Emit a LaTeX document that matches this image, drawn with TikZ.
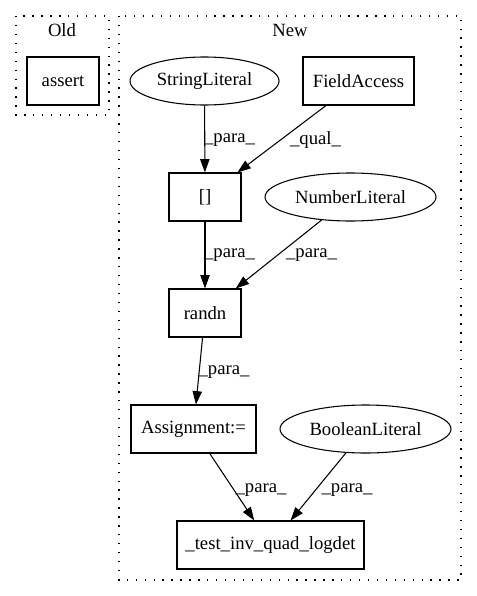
\documentclass[tikz,border=0pt]{standalone}
\usepackage{fontspec}
\setmainfont{Liberation Serif}
\usetikzlibrary{shapes.geometric,arrows.meta}
\begin{document}
\begin{tikzpicture}[x=0.75pt,y=-0.75pt,
  every node/.style={font=\fontsize{14}{16}\selectfont},
  boxnode/.style={draw,line width=0.8pt,rectangle,inner sep=0pt,minimum height=36pt},
  ellnode/.style={draw,line width=0.8pt,ellipse,inner sep=0pt,minimum height=36pt},
  arr/.style={line width=0.8pt,-{Triangle[length=10pt,width=7pt]}},
  lbl/.style={inner sep=0pt},
  cluster/.style={line width=1pt,dash pattern=on 1pt off 5.7pt}]
\useasboundingbox (0,0) rectangle (477,596);
% clusters
\draw[cluster] (16,16) rectangle (109,115);
\node[lbl] (oldlbl) at (62,30) {Old};
\draw[cluster] (119,16) rectangle (461,580);
\node[lbl] (newlbl) at (290,30) {New};
% nodes
\node[boxnode,minimum width=54pt] (as) at (63,81) {assert};
\node[ellnode,minimum width=111.75pt] (sl) at (204.5,81) {StringLiteral};
\node[boxnode,minimum width=83.25pt] (fa) at (358.5,81) {FieldAccess};
\node[boxnode,minimum width=54pt] (br) at (205,197) {[]};
\node[ellnode,minimum width=128.25pt] (nl) at (350.5,197) {NumberLiteral};
\node[boxnode,minimum width=54pt] (rn) at (205,313) {randn};
\node[boxnode,minimum width=93.75pt] (asg) at (193.5,429) {Assignment:=};
\node[ellnode,minimum width=128.25pt] (bl) at (365.5,429) {BooleanLiteral};
\node[boxnode,minimum width=140.25pt] (tq) at (270.5,545) {\_test\_inv\_quad\_logdet};
% edges
\draw[arr] (sl) -- (br);
\draw[arr] (fa) -- (br);
\draw[arr] (br) -- (rn);
\draw[arr] (nl) -- (rn);
\draw[arr] (rn) -- (asg);
\draw[arr] (asg) -- (tq);
\draw[arr] (bl) -- (tq);
% edge labels
\node[lbl] (l1) at (229.5,140) {\_para\_};
\node[lbl] (l2) at (315.5,140) {\_qual\_};
\node[lbl] (l3) at (229.5,255) {\_para\_};
\node[lbl] (l4) at (311.5,255) {\_para\_};
\node[lbl] (l5) at (224,372) {\_para\_};
\node[lbl] (l6) at (261,490) {\_para\_};
\node[lbl] (l7) at (347,490) {\_para\_};
\end{tikzpicture}
\end{document}
